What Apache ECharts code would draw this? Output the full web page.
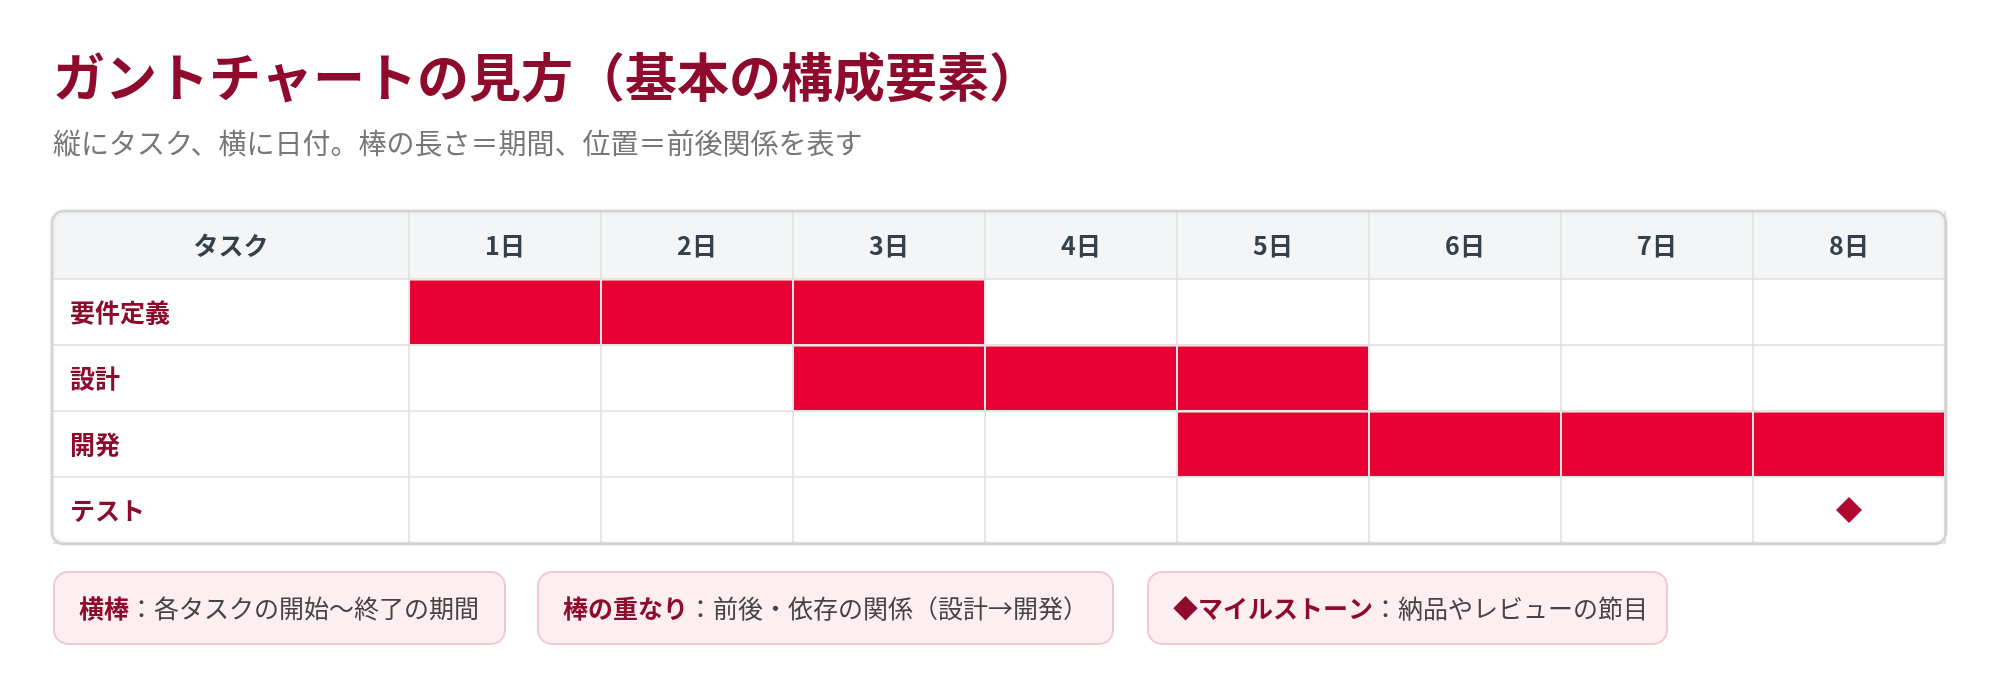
<!DOCTYPE html>
<html>
<head>
<meta charset="utf-8">
<script src="https://cdn.jsdelivr.net/npm/echarts@6/dist/echarts.min.js"></script>
<style>
html,body{margin:0;padding:0;background:#fff;}
#chart{width:2000px;height:696px;}
</style>
</head>
<body>
<div id="chart"></div>
<script>
// ---- data ----
const titleText = 'ガントチャートの見方（基本の構成要素）';
const subtitleText = '縦にタスク、横に日付。棒の長さ＝期間、位置＝前後関係を表す';
const headerLabel = 'タスク';
const days = ['1日', '2日', '3日', '4日', '5日', '6日', '7日', '8日'];
const tasks = ['要件定義', '設計', '開発', 'テスト'];
const taskStartDay = [1, 3, 5, null];   // inclusive start day (1-based)
const taskEndDay = [3, 5, 8, null];     // inclusive end day
const milestoneTask = ['テスト'];
const milestoneDay = ['8日'];
const noteLabels = ['横棒', '棒の重なり', '◆マイルストーン'];
const noteTexts = ['：各タスクの開始〜終了の期間', '：前後・依存の関係（設計→開発）', '：納品やレビューの節目'];

// ---- build ----
const FONT = '"Noto Sans CJK JP", "Noto Sans", sans-serif';
const barCells = [];
tasks.forEach((t, i) => {
  if (taskStartDay[i] == null) return;
  for (let d = taskStartDay[i]; d <= taskEndDay[i]; d++) barCells.push([d - 1, i]);
});
const milestones = milestoneTask.map((t, k) => [milestoneDay[k], t]);

const chart = echarts.init(document.getElementById('chart'));
const gridLine = { show: true, lineStyle: { color: '#dedede', width: 1.5 } };
const hidden = { axisLine: { show: false }, axisTick: { show: false } };

const noteX = [53, 537, 1147];
const noteW = [451, 575, 519];
const noteGraphics = noteLabels.map((lab, k) => ({
  type: 'group', left: noteX[k], top: 571,
  children: [
    { type: 'rect', shape: { x: 0, y: 0, width: noteW[k], height: 72, r: 14 },
      style: { fill: '#fdeef1', stroke: '#f6c6d0', lineWidth: 2 } },
    { type: 'text', x: 25, y: 36,
      style: { text: '{b|' + lab + '}{t|' + noteTexts[k] + '}', verticalAlign: 'middle',
        rich: { b: { fontFamily: FONT, fontSize: 25, fontWeight: 'bold', fill: '#8f0b2d' },
                t: { fontFamily: FONT, fontSize: 25, fill: '#444' } } } }
  ]
}));

chart.setOption({
  animation: false,
  backgroundColor: '#fff',
  title: [
    { text: titleText, left: 53, top: 47, padding: 0,
      textStyle: { fontFamily: FONT, fontSize: 52, fontWeight: 'bold', color: '#8f0b2d', lineHeight: 60 } },
    { text: subtitleText, left: 53, top: 127, padding: 0,
      textStyle: { fontFamily: FONT, fontSize: 28, fontWeight: 'normal', color: '#777', lineHeight: 32 } }
  ],
  graphic: [
    { type: 'rect', z: -10, shape: { x: 53, y: 212, width: 1892, height: 67, r: [12, 12, 0, 0] },
      style: { fill: '#f4f5f6' } },
    { type: 'rect', z: 100, shape: { x: 52, y: 211, width: 1894, height: 333, r: 12 },
      style: { fill: 'none', stroke: '#d2d2d2', lineWidth: 2.5, shadowBlur: 4, shadowColor: 'rgba(0,0,0,0.08)' } },
    ...noteGraphics
  ],
  grid: [
    { left: 53, top: 211, width: 356, height: 68 },
    { left: 409, top: 211, width: 1536, height: 68 },
    { left: 53, top: 279, width: 356, height: 264 },
    { left: 409, top: 279, width: 1536, height: 264 }
  ],
  xAxis: [
    { gridIndex: 0, type: 'category', data: [headerLabel], position: 'top', ...hidden,
      axisLabel: { inside: true, margin: 34, verticalAlign: 'middle', fontFamily: FONT, fontSize: 25, fontWeight: 'bold', color: '#34404c' },
      splitLine: { show: false } },
    { gridIndex: 1, type: 'category', data: days, position: 'top', ...hidden,
      axisLabel: { inside: true, margin: 34, verticalAlign: 'middle', fontFamily: FONT, fontSize: 25, fontWeight: 'bold', color: '#34404c' },
      splitLine: gridLine },
    { gridIndex: 2, type: 'value', min: 0, max: 1, show: false },
    { gridIndex: 3, type: 'category', data: days, ...hidden, axisLabel: { show: false }, splitLine: gridLine }
  ],
  yAxis: [
    { gridIndex: 0, type: 'category', data: [''], show: false },
    { gridIndex: 1, type: 'category', data: [''], show: false },
    { gridIndex: 2, type: 'category', data: tasks, inverse: true, ...hidden,
      axisLabel: { inside: true, margin: 17, align: 'left', fontFamily: FONT, fontSize: 25, fontWeight: 'bold', color: '#8f0b2d' },
      splitLine: gridLine },
    { gridIndex: 3, type: 'category', data: tasks, inverse: true, ...hidden, axisLabel: { show: false },
      splitLine: gridLine }
  ],
  series: [
    {
      type: 'custom', xAxisIndex: 3, yAxisIndex: 3, data: barCells, z: 5,
      renderItem: (params, api) => {
        const c = api.coord([api.value(0), api.value(1)]);
        const s = api.size([1, 1]);
        return { type: 'rect',
          shape: { x: c[0] - s[0] / 2 + 1, y: c[1] - s[1] / 2 + 1.5, width: s[0] - 2, height: s[1] - 2.5 },
          style: { fill: '#e60033' } };
      }
    },
    {
      type: 'scatter', xAxisIndex: 3, yAxisIndex: 3, data: milestones, z: 6,
      symbol: 'diamond', symbolSize: [26, 26], itemStyle: { color: '#b0082e', opacity: 1 }
    }
  ]
});
</script>
</body>
</html>
